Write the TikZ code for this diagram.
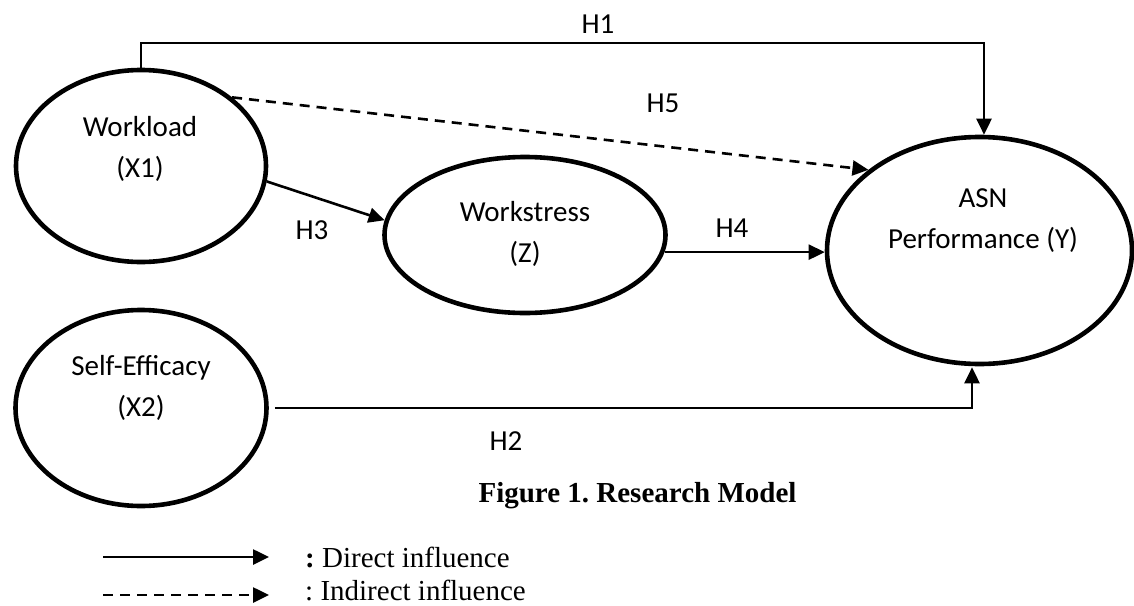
\documentclass[tikz,border=0pt]{standalone}
\usepackage{fontspec}
\setmainfont{Liberation Serif}
\newfontfamily\calibrifont{Carlito}
\usetikzlibrary{shapes.geometric,arrows.meta}
\frenchspacing
\begin{document}
\begin{tikzpicture}[x=1pt,y=-1pt,
  latent/.style={ellipse,draw,line width=4.6pt,inner sep=0pt},
  lbl/.style={anchor=base,inner sep=0pt,font=\calibrifont\fontsize{29}{34}\selectfont},
  serif/.style={anchor=base west,inner sep=0pt,font=\fontsize{29}{34}\selectfont},
  conn/.style={line width=2.6pt,-{Triangle[length=16pt,width=15pt]}},
  indirect/.style={conn,dash pattern=on 10pt off 7pt}]
\useasboundingbox (0,0) rectangle (1134,605);
% ellipses
\node[latent,minimum width=250pt,minimum height=192pt] (wl) at (141,166) {};
\node[latent,minimum width=281pt,minimum height=156pt] (ws) at (525,235) {};
\node[latent,minimum width=305pt,minimum height=227pt] (asn) at (979.5,250.5) {};
\node[latent,minimum width=251pt,minimum height=196pt] (se) at (141,408) {};
% ellipse texts
\node[lbl] (wlt1) at (140,136) {Workload};
\node[lbl] (wlt2) at (140,177) {(X1)};
\node[lbl] (wst1) at (525,221) {Workstress};
\node[lbl] (wst2) at (525,262) {(Z)};
\node[lbl] (asnt1) at (983,207) {ASN};
\node[lbl] (asnt2) at (983,248) {Performance (Y)};
\node[lbl] (set1) at (141,375) {Self-Efficacy};
\node[lbl] (set2) at (141,416) {(X2)};
% connectors
\coordinate (h1c) at (984,43);
\draw[conn] (wl.north) |- (h1c) -- (h1c |- asn.north);
\draw[indirect] (wl.37) -- (asn.144);
\draw[conn] (wl.-7) -- (ws.174);
\draw[conn] (ws.-7.5) -- (ws.-7.5 -| asn.west);
\coordinate (h2c) at (972,408);
\draw[conn] ([xshift=6pt]se.east) -- (h2c) -- ([yshift=-1pt]h2c |- asn.south);
% hypothesis labels
\node[lbl] (h1) at (598,33) {H1};
\node[lbl] (h5) at (663,112) {H5};
\node[lbl] (h3) at (312,239) {H3};
\node[lbl] (h4) at (732,237) {H4};
\node[lbl] (h2) at (506,450) {H2};
% caption
\node[anchor=base,inner sep=0pt,font=\bfseries\fontsize{29}{34}\selectfont] (cap) at (637.5,502) {Figure 1. Research Model};
% legend
\coordinate (l1s) at (103,557);
\coordinate (l1e) at (269,557);
\coordinate (l2s) at (103,595);
\coordinate (l2e) at (269,595);
\draw[conn] (l1s) -- (l1e);
\draw[indirect] (l2s) -- (l2e);
\node[serif] (leg1) at (305,567) {\textbf{:} Direct influence};
\node[serif] (leg2) at (305,600) {: Indirect influence};
\end{tikzpicture}
\end{document}
